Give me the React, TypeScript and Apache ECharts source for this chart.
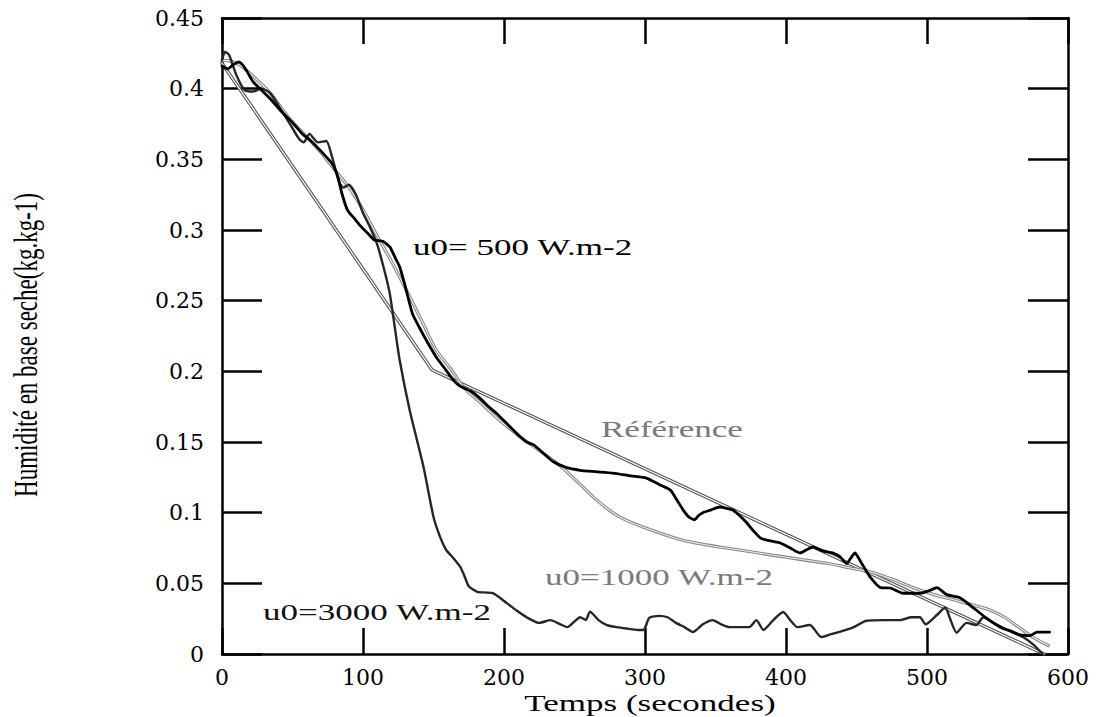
import React, { useEffect, useRef } from "react";
import * as echarts from "echarts";

// Référence (piecewise linear)
const refT = [0, 149, 583];
const refH = [0.418, 0.201, 0.0];

// u0 = 500 W.m-2
const t500 = [0, 4, 8, 12, 16, 22, 28, 35, 42, 50, 57, 62, 70, 78, 82, 85, 89, 94, 99, 104, 108, 114, 119, 123, 126, 130, 135, 140, 146, 152, 158, 164, 168, 172, 178, 184, 188, 195, 203, 211, 216, 221, 228, 235, 244, 254, 265, 277, 290, 301, 310, 318, 322, 327, 331, 335, 338, 341, 347, 353, 358, 362, 367, 372, 377, 382, 389, 396, 403, 410, 415, 419, 426, 433, 438, 443, 446, 449, 452, 455, 460, 467, 474, 483, 495, 502, 507, 514, 523, 530, 542, 552, 560, 566, 573, 578, 587];
const h500 = [0.416, 0.414, 0.417, 0.419, 0.415, 0.405, 0.399, 0.392, 0.384, 0.376, 0.368, 0.364, 0.356, 0.347, 0.338, 0.326, 0.314, 0.308, 0.302, 0.297, 0.293, 0.292, 0.288, 0.28, 0.274, 0.26, 0.241, 0.231, 0.22, 0.21, 0.202, 0.194, 0.19, 0.188, 0.185, 0.18, 0.176, 0.17, 0.162, 0.154, 0.15, 0.148, 0.142, 0.136, 0.132, 0.13, 0.129, 0.128, 0.126, 0.1245, 0.12, 0.116, 0.11, 0.102, 0.097, 0.095, 0.098, 0.1, 0.102, 0.104, 0.103, 0.102, 0.098, 0.093, 0.087, 0.082, 0.08, 0.0785, 0.075, 0.0715, 0.074, 0.0757, 0.073, 0.0715, 0.069, 0.064, 0.068, 0.0715, 0.067, 0.062, 0.054, 0.047, 0.0467, 0.043, 0.043, 0.045, 0.047, 0.042, 0.04, 0.035, 0.0255, 0.019, 0.016, 0.0135, 0.013, 0.0155, 0.0155];

// u0 = 1000 W.m-2
const t1000 = [0, 8, 15, 25, 35, 47, 60, 70, 78, 90, 99, 110, 120, 132, 142, 152, 162, 172, 183, 195, 211, 225, 240, 254, 268, 282, 301, 325, 345, 367, 390, 410, 430, 445, 460, 475, 490, 505, 520, 535, 545, 555, 565, 575, 586];
const h1000 = [0.42, 0.419, 0.415, 0.406, 0.396, 0.38, 0.366, 0.355, 0.345, 0.33, 0.316, 0.296, 0.278, 0.255, 0.235, 0.215, 0.202, 0.188, 0.178, 0.167, 0.154, 0.144, 0.133, 0.12, 0.107, 0.097, 0.089, 0.081, 0.077, 0.0736, 0.07, 0.067, 0.064, 0.061, 0.058, 0.053, 0.047, 0.042, 0.038, 0.034, 0.031, 0.026, 0.019, 0.012, 0.006];

// u0 = 3000 W.m-2
const t3000 = [0, 2, 5, 10, 16, 22, 28, 34, 42, 50, 55, 58, 62, 68, 74, 78, 83, 86, 90, 95, 100, 105, 110, 115, 119, 122, 126, 133, 143, 150, 155, 159, 164, 169, 172, 175, 181, 192, 202, 210, 216, 225, 233, 240, 245, 250, 254, 258, 261, 267, 273, 280, 287, 295, 299, 303, 310, 316, 322, 328, 334, 341, 348, 354, 360, 367, 374, 379, 384, 391, 398, 403, 408, 417, 425, 432, 438, 448, 457, 470, 481, 489, 495, 499, 507, 513, 516, 521, 528, 535, 540, 547, 557, 568, 575, 582];
const h3000 = [0.42, 0.426, 0.424, 0.41, 0.399, 0.398, 0.4, 0.397, 0.385, 0.372, 0.364, 0.362, 0.368, 0.362, 0.363, 0.352, 0.334, 0.33, 0.332, 0.325, 0.312, 0.302, 0.29, 0.272, 0.255, 0.235, 0.208, 0.173, 0.132, 0.097, 0.082, 0.0736, 0.068, 0.0616, 0.055, 0.048, 0.044, 0.043, 0.036, 0.03, 0.026, 0.022, 0.024, 0.021, 0.019, 0.023, 0.026, 0.024, 0.03, 0.024, 0.0205, 0.019, 0.018, 0.017, 0.017, 0.0255, 0.027, 0.026, 0.022, 0.019, 0.0156, 0.021, 0.024, 0.021, 0.019, 0.019, 0.019, 0.024, 0.017, 0.024, 0.0297, 0.024, 0.019, 0.0205, 0.012, 0.014, 0.0156, 0.019, 0.0235, 0.024, 0.024, 0.026, 0.026, 0.021, 0.0276, 0.033, 0.026, 0.015, 0.022, 0.0205, 0.026, 0.022, 0.017, 0.012, 0.007, 0.0];

const xTitle = "Temps (secondes)";
const yTitle = "Humidité en base seche(kg.kg-1)";
const labels = [
  { text: "u0= 500 W.m-2", color: "#000" },
  { text: "Référence", color: "#7a7a7a" },
  { text: "u0=1000 W.m-2", color: "#7a7a7a" },
  { text: "u0=3000 W.m-2", color: "#111" },
];

const zip = (t: number[], h: number[]) => t.map((v, i) => [v, h[i]]);

export default function App() {
  const ref = useRef<HTMLDivElement>(null);
  useEffect(() => {
    const chart = echarts.init(ref.current!, null, { renderer: "svg" });
    const serif = "Liberation Serif";
    const tickFont = "DejaVu Serif";
    const axisCommon = (inside: number) => ({
      axisLine: { show: true, onZero: false, lineStyle: { color: "#000", width: 2.5 } },
      axisTick: { show: true, inside: true, length: inside, lineStyle: { color: "#000", width: 2.5 } },
      splitLine: { show: false },
    });
    const line = (name: string, data: number[][], color: string, width: number, z: number, smooth: number | boolean = false) => ({
      name,
      type: "line",
      data,
      symbol: "none",
      smooth,
      silent: true,
      z,
      lineStyle: { color, width, cap: "round", join: "round" },
    });
    const textEl = (text: string, x: number, y: number, color: string, extra: any = {}) => ({
      type: "text",
      x,
      y,
      scaleX: 1.46,
      silent: true,
      style: {
        text,
        fill: color,
        fontFamily: serif,
        fontSize: 24,
        textAlign: extra.center ? "center" : "left",
        textVerticalAlign: "middle",
        align: extra.center ? "center" : "left",
        verticalAlign: "middle",
      },
    });
    const option: any = {
      animation: false,
      backgroundColor: "#fff",
      grid: { left: 222, right: 33, top: 18, bottom: 63 },
      xAxis: [
        {
          type: "value", min: 0, max: 600, interval: 100, position: "bottom",
          ...axisCommon(26),
          axisLabel: { margin: 12, color: "#000", fontFamily: tickFont, fontSize: 22 },
        },
        {
          type: "value", min: 0, max: 600, interval: 100, position: "top",
          ...axisCommon(26),
          axisLabel: { show: false },
        },
      ],
      yAxis: [
        {
          type: "value", min: 0, max: 0.45, interval: 0.05, position: "left",
          ...axisCommon(40),
          axisLabel: { margin: 18, color: "#000", fontFamily: tickFont, fontSize: 22 },
        },
        {
          type: "value", min: 0, max: 0.45, interval: 0.05, position: "right",
          ...axisCommon(40),
          axisLabel: { show: false },
        },
      ],
      series: [
        line("Référence", zip(refT, refH), "#555", 3.4, 2),
        line("Référence (centre)", zip(refT, refH), "#fff", 1.2, 3),
        line("u0=1000 W.m-2", zip(t1000, h1000), "#858585", 3.2, 4, 0.4),
        line("u0=1000 (centre)", zip(t1000, h1000), "#eee", 1.1, 5, 0.4),
        line("u0=3000 W.m-2", zip(t3000, h3000), "#262626", 2.4, 6, 0.2),
        line("u0=500 W.m-2", zip(t500, h500), "#000", 2.8, 7, 0.2),
      ],
      graphic: [
        textEl(labels[0].text, 413, 247, labels[0].color),
        textEl(labels[1].text, 601, 429, labels[1].color),
        textEl(labels[2].text, 545, 577, labels[2].color),
        textEl(labels[3].text, 263, 612, labels[3].color),
        textEl(xTitle, 650, 703, "#000", { center: true }),
        {
          type: "text",
          x: 25,
          y: 345,
          rotation: Math.PI / 2,
          scaleY: 1.46,
          silent: true,
          style: {
            text: yTitle,
            fill: "#000",
            fontFamily: serif,
            fontSize: 23,
            textAlign: "center",
            textVerticalAlign: "middle",
            align: "center",
            verticalAlign: "middle",
          },
        },
      ],
    };
    chart.setOption(option);
    return () => chart.dispose();
  }, []);
  return (
    <div
      ref={ref}
      style={{ position: "absolute", left: 0, top: 0, width: 1101, height: 717, background: "#fff" }}
    />
  );
}
